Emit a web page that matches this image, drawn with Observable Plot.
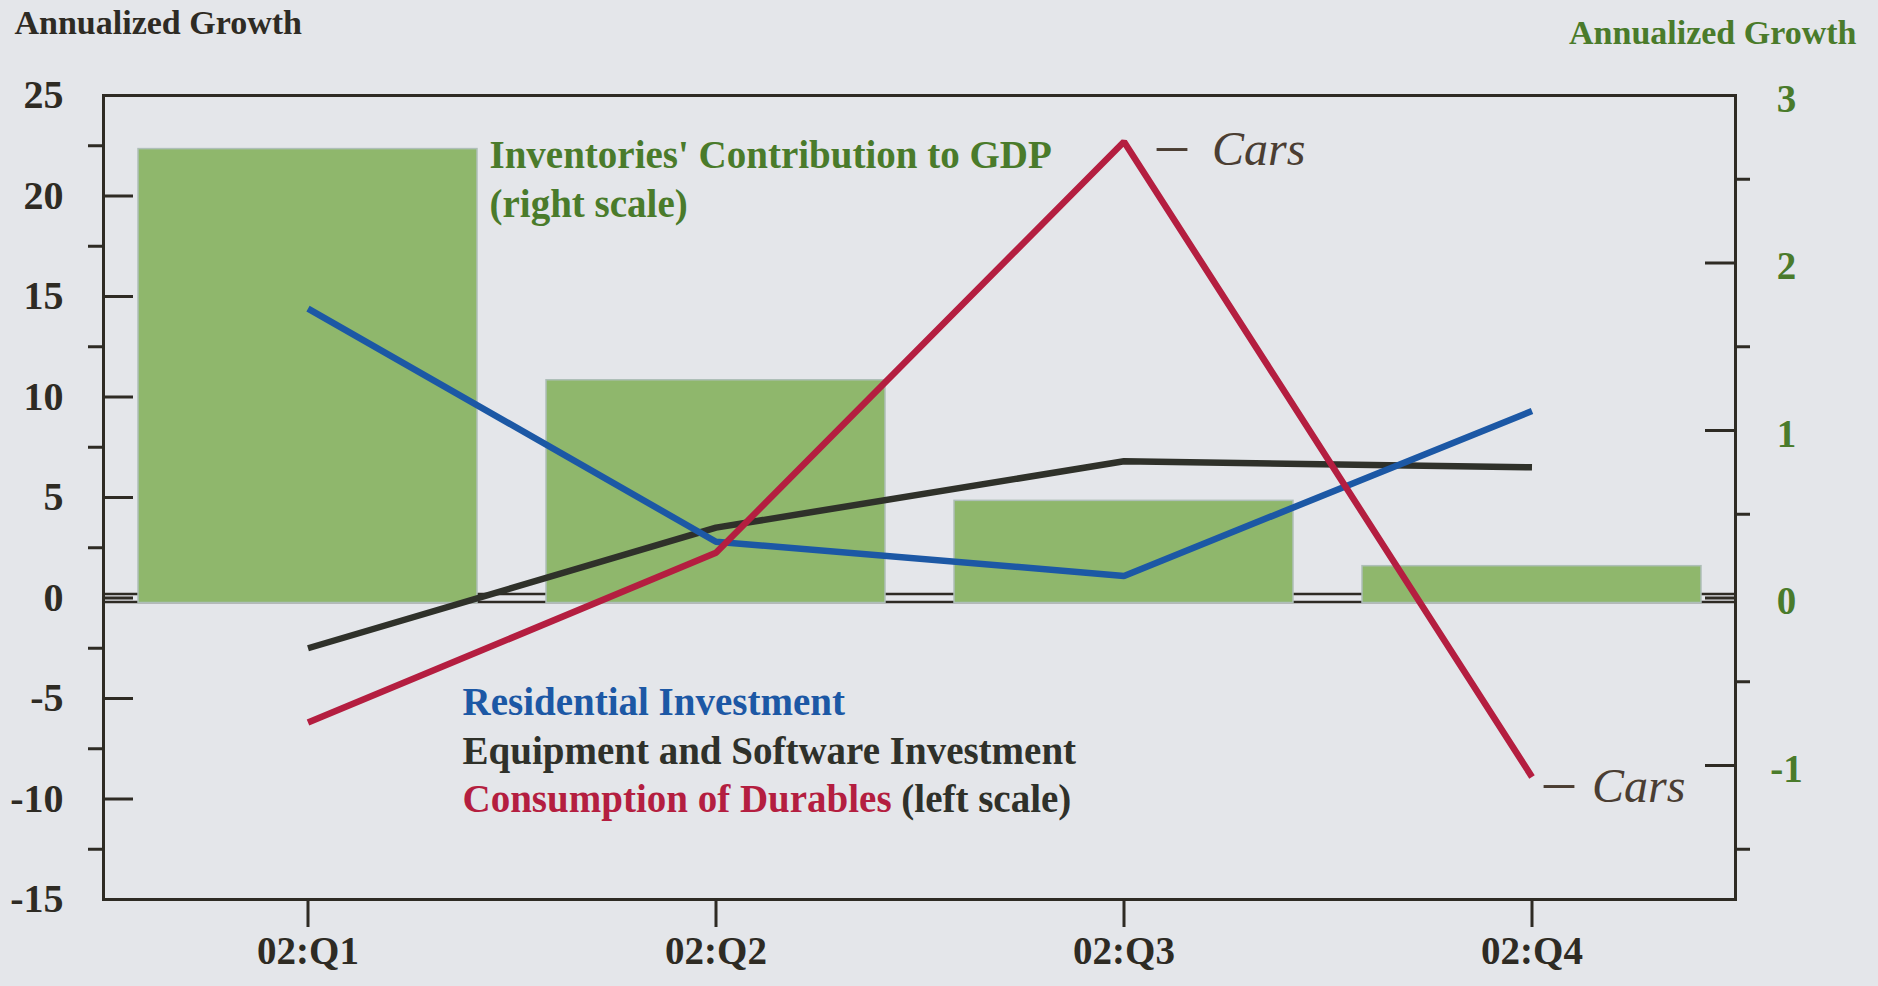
<!DOCTYPE html>
<html><head><meta charset="utf-8">
<script src="https://cdn.jsdelivr.net/npm/d3@7"></script>
<script src="https://cdn.jsdelivr.net/npm/@observablehq/plot@0.6"></script>
<style>
html,body{margin:0;padding:0;background:#e4e6ea;overflow:hidden;}
</style></head><body><div id="chart"></div>
<script>
// ---- data ----
const quarters = ["02:Q1", "02:Q2", "02:Q3", "02:Q4"];
const inventories = [2.68, 1.30, 0.58, 0.19];      // right scale
const residential = [14.4, 2.8, 1.1, 9.3];         // left scale
const equipment = [-2.5, 3.5, 6.8, 6.5];           // left scale
const durables = [-6.2, 2.25, 22.7, -8.9];         // left scale
const leftMajorTicks = [-15, -10, -5, 0, 5, 10, 15, 20, 25];
const leftMinorTicks = [-12.5, -7.5, -2.5, 2.5, 7.5, 12.5, 17.5, 22.5];
const rightMajorTicks = [-1, 0, 1, 2, 3];
const rightMinorTicks = [-1.5, -0.5, 0.5, 1.5, 2.5];
const leftDomain = [-15, 25];
const rightDomain = [-1.8, 3];
const annotations = [
  {q: "02:Q3", v: durables[2], text: "Cars"},
  {q: "02:Q4", v: durables[3], text: "Cars"}
];

// ---- helpers ----
const k = (leftDomain[1] - leftDomain[0]) / (rightDomain[1] - rightDomain[0]);
const toLeft = v => leftDomain[0] + (v - rightDomain[0]) * k;
const table = quarters.map((q, i) => ({q, inv: inventories[i], res: residential[i], eq: equipment[i], dur: durables[i]}));

const WIDTH = 1878, HEIGHT = 986;
const mL = 103, mR = 143, mT = 95, mB = 87;
const W = WIDTH - mL - mR, H = HEIGHT - mT - mB;
const AX = "#2e2b24";
const GREEN_TXT = "#4a7b2b";
const BAR = "#8fb76c";
const BLUE = "#1c58a5", BLACK = "#2f312a", RED = "#b41e40";
const INK = "#4b3e33";
const serif = "Liberation Serif, 'Times New Roman', serif";

function textWidth(str, font) {
  const c = document.createElement("canvas").getContext("2d");
  c.font = font;
  return c.measureText(str).width;
}
const legendX = 462 - mL;
const consW = textWidth("Consumption of Durables ", `bold 39px ${serif}`);
const lineOpts = {strokeWidth: 6.5, strokeLinejoin: "miter", strokeLinecap: "butt"};

const chart = Plot.plot({
  width: WIDTH, height: HEIGHT,
  marginLeft: mL, marginRight: mR, marginTop: mT, marginBottom: mB,
  style: {background: "#e4e6ea", fontFamily: serif, fontWeight: "bold", color: AX, overflow: "visible"},
  x: {type: "band", domain: quarters, paddingInner: 0.17, paddingOuter: 0.085, axis: null},
  y: {domain: leftDomain, axis: null},
  marks: [
    // double zero line
    Plot.ruleY([0], {dy: -4, stroke: AX, strokeWidth: 2.5}),
    Plot.ruleY([0], {dy: 4, stroke: AX, strokeWidth: 2.5}),
    // inventory bars (right scale)
    Plot.barY(table, {x: "q", y1: 0, y2: d => toLeft(d.inv), fill: BAR, stroke: "#aebfb8", strokeWidth: 1.5, insetBottom: -5}),
    // lines (left scale)
    Plot.line(table, {x: "q", y: "eq", stroke: BLACK, ...lineOpts}),
    Plot.line(table, {x: "q", y: "res", stroke: BLUE, ...lineOpts}),
    Plot.line(table, {x: "q", y: "dur", stroke: RED, ...lineOpts}),
    // frame
    Plot.frame({stroke: AX, strokeWidth: 3}),
    // left axis
    Plot.ruleY(leftMajorTicks, {y: d => d, insetRight: W - 30, stroke: AX, strokeWidth: 3}),
    Plot.ruleY(leftMinorTicks, {y: d => d, insetRight: W - 15, dx: -15, stroke: AX, strokeWidth: 3}),
    Plot.text(leftMajorTicks, {y: d => d, frameAnchor: "left", dx: -40, textAnchor: "end", text: d => String(d), fill: AX, fontSize: 40, fontWeight: "bold"}),
    // right axis
    Plot.ruleY(rightMajorTicks, {y: toLeft, insetLeft: W - 30, stroke: AX, strokeWidth: 3}),
    Plot.ruleY(rightMinorTicks, {y: toLeft, insetLeft: W - 15, dx: 15, stroke: AX, strokeWidth: 3}),
    Plot.text(rightMajorTicks, {y: toLeft, frameAnchor: "right", dx: 51, dy: 4, textAnchor: "middle", text: d => String(d), fill: GREEN_TXT, fontSize: 39, fontWeight: "bold"}),
    // x axis
    Plot.ruleX(quarters, {x: d => d, insetTop: H - 28, dy: 28, stroke: AX, strokeWidth: 3}),
    Plot.text(quarters, {x: d => d, frameAnchor: "bottom", dy: 64, text: d => d, fill: AX, fontSize: 39, fontWeight: "bold"}),
    // axis titles
    Plot.text(["Annualized Growth"], {frameAnchor: "top-left", dx: 14 - mL, dy: 33 - mT, lineAnchor: "bottom", textAnchor: "start", fill: AX, fontSize: 34, fontWeight: "bold"}),
    Plot.text(["Annualized Growth"], {frameAnchor: "top-right", dx: 1856 - (WIDTH - mR), dy: 43 - mT, lineAnchor: "bottom", textAnchor: "end", fill: GREEN_TXT, fontSize: 34, fontWeight: "bold"}),
    // bar label
    Plot.text(["Inventories' Contribution to GDP"], {frameAnchor: "top-left", dx: 489 - mL, dy: 167 - mT, lineAnchor: "bottom", textAnchor: "start", fill: GREEN_TXT, fontSize: 39, fontWeight: "bold"}),
    Plot.text(["(right scale)"], {frameAnchor: "top-left", dx: 489 - mL, dy: 216 - mT, lineAnchor: "bottom", textAnchor: "start", fill: GREEN_TXT, fontSize: 39, fontWeight: "bold"}),
    // line legend
    Plot.text(["Residential Investment"], {frameAnchor: "top-left", dx: legendX, dy: 714 - mT, lineAnchor: "bottom", textAnchor: "start", fill: BLUE, fontSize: 39, fontWeight: "bold"}),
    Plot.text(["Equipment and Software Investment"], {frameAnchor: "top-left", dx: legendX, dy: 763 - mT, lineAnchor: "bottom", textAnchor: "start", fill: BLACK, fontSize: 39, fontWeight: "bold"}),
    Plot.text(["Consumption of Durables"], {frameAnchor: "top-left", dx: legendX, dy: 811 - mT, lineAnchor: "bottom", textAnchor: "start", fill: RED, fontSize: 39, fontWeight: "bold"}),
    Plot.text(["(left scale)"], {frameAnchor: "top-left", dx: legendX + consW, dy: 811 - mT, lineAnchor: "bottom", textAnchor: "start", fill: BLACK, fontSize: 39, fontWeight: "bold"}),
    // handwritten annotations
    Plot.text(annotations, {x: "q", y: "v", text: () => "–", fill: INK, fontSize: 60, fontWeight: "normal", textAnchor: "start",
      filter: d => d.q === "02:Q3", dx: 33, dy: 2}),
    Plot.text(annotations, {x: "q", y: "v", text: "text", fill: INK, fontSize: 48, fontStyle: "italic", fontWeight: "normal", textAnchor: "start",
      filter: d => d.q === "02:Q3", dx: 88, dy: 8}),
    Plot.text(annotations, {x: "q", y: "v", text: () => "–", fill: INK, fontSize: 60, fontWeight: "normal", textAnchor: "start",
      filter: d => d.q === "02:Q4", dx: 12, dy: 4}),
    Plot.text(annotations, {x: "q", y: "v", text: "text", fill: INK, fontSize: 48, fontStyle: "italic", fontWeight: "normal", textAnchor: "start",
      filter: d => d.q === "02:Q4", dx: 60, dy: 10})
  ]
});
document.getElementById("chart").appendChild(chart);
</script>
</body></html>
